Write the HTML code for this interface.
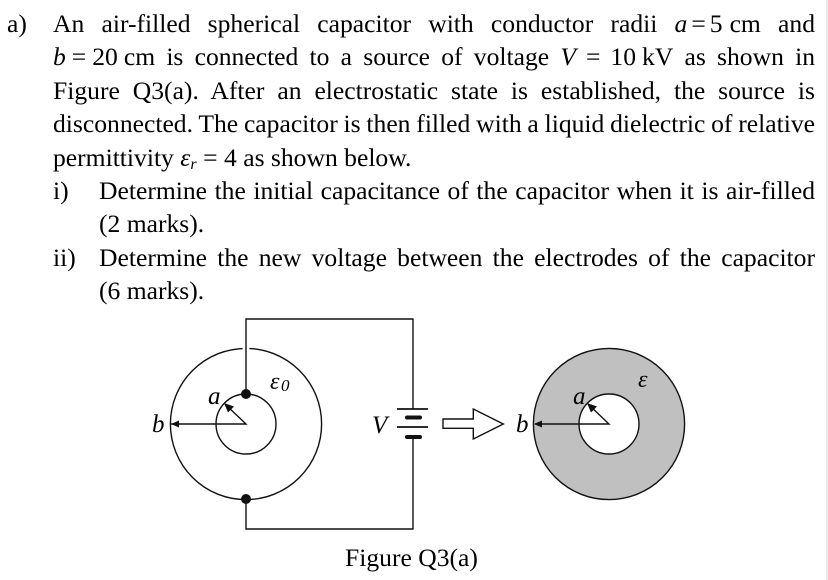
<!DOCTYPE html>
<html><head><meta charset="utf-8"><style>
html,body{margin:0;padding:0;background:#fff;width:828px;height:580px;overflow:hidden}
body{position:relative;font-family:"Liberation Serif","DejaVu Serif",serif;color:#000;font-size:25.6px}
.l{position:absolute;left:53px;width:762px;line-height:30px;height:30px;white-space:normal;text-align:justify;text-align-last:justify}
.n{text-align:left;text-align-last:left}
.m{position:absolute;line-height:30px;height:30px;white-space:nowrap}
.t{display:inline-block;white-space:nowrap}
i{font-style:italic}
sub{font-size:16px;line-height:0;vertical-align:-3px}
svg{position:absolute;left:0;top:0}
svg text{font-family:"Liberation Serif","DejaVu Serif",serif;fill:#000}
#edge{position:absolute;left:826px;top:0;width:2px;height:580px;background:#e8e8e8}
</style></head><body>
<div class="m" style="left:7px;top:9px">a)</div>
<div class="l" style="top:9px">An air-filled spherical capacitor with conductor radii <span class="t"><i>a</i><span style="margin:0 4px">=</span>5<span style="margin-left:7px">cm</span></span> and</div>
<div class="l" style="top:42px"><span class="t"><i>b</i><span style="margin:0 6px">=</span>20<span style="margin-left:6px">cm</span></span> is connected to a source of voltage <span class="t"><i>V</i><span style="margin:0 10px">=</span>10<span style="margin-left:6px">kV</span></span> as shown in</div>
<div class="l" style="top:76px">Figure Q3(a). After an electrostatic state is established, the source is</div>
<div class="l" style="top:109px;word-spacing:-2.6px">disconnected. The capacitor is then filled with a liquid dielectric of relative</div>
<div class="l n" style="top:143px">permittivity <i>ε<sub>r</sub></i><span style="margin:0 6.5px">=</span>4 as shown below.</div>
<div class="m" style="left:53px;top:176px">i)</div>
<div class="l" style="left:99px;width:716px;top:176px">Determine the initial capacitance of the capacitor when it is air-filled</div>
<div class="l n" style="left:99px;width:716px;top:209px">(2 marks).</div>
<div class="m" style="left:53px;top:243px">ii)</div>
<div class="l" style="left:99px;width:716px;top:243px">Determine the new voltage between the electrodes of the capacitor</div>
<div class="l n" style="left:99px;width:716px;top:276px">(6 marks).</div>
<svg width="828" height="580" viewBox="0 0 828 580">
<g fill="none" stroke="#111" stroke-width="1.4">
<circle cx="246" cy="424" r="75.6"/>
<circle cx="246" cy="424" r="30"/>
<path d="M171 424H246L226 405"/>
<path d="M397 409H428M397 427H428" stroke-width="1.8"/>
<path d="M407 417.5H420M407 437H420" stroke-width="4" stroke-linecap="round"/>
</g>
<rect x="242.6" y="345" width="6.8" height="7" fill="#fff"/>
<path d="M246 394V319H413V409M413 437V529H246V499" fill="none" stroke="#111" stroke-width="1.4"/>
<circle cx="246" cy="394" r="5" fill="#111"/>
<circle cx="246" cy="499" r="5" fill="#111"/>
<path d="M171 424L179 420.5V427.5Z" fill="#111"/>
<path d="M224 403L234 406.5L228 412.5Z" fill="#111"/>
<text x="208" y="404" font-size="25" font-style="italic">a</text>
<text x="152" y="432" font-size="25" font-style="italic">b</text>
<text x="270" y="389" font-size="24" font-style="italic">ε</text>
<text x="281" y="391" font-size="17" font-style="italic">0</text>
<text x="372" y="433" font-size="25" font-style="italic">V</text>

<circle cx="609" cy="424" r="75.6" fill="#c0c0c0" stroke="#111" stroke-width="1.4"/>
<circle cx="609" cy="424" r="30" fill="#fff" stroke="#111" stroke-width="1.4"/>
<path d="M535 424H609L589 405" fill="none" stroke="#111" stroke-width="1.4"/>
<path d="M534 424L542 420.5V427.5Z" fill="#111"/>
<path d="M587 403L597 406.5L591 412.5Z" fill="#111"/>
<text x="573" y="404" font-size="25" font-style="italic">a</text>
<text x="516" y="432" font-size="25" font-style="italic">b</text>
<text x="638" y="387" font-size="24" font-style="italic">ε</text>
<path d="M443 419H473.3V409L503.3 424L473.3 439V428.3H443Z" fill="#fff" stroke="#111" stroke-width="1.4"/>
<text x="345" y="566" font-size="25.6">Figure Q3(a)</text>
</svg>
<div id="edge"></div>
</body></html>
